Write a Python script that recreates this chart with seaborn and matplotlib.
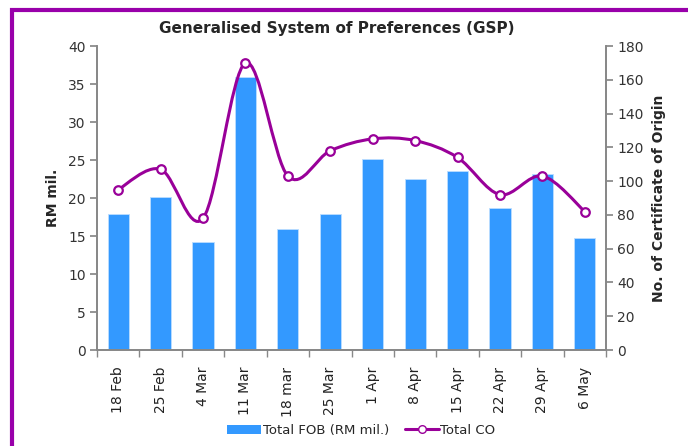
import numpy as np
import matplotlib
matplotlib.use("Agg")
import matplotlib.pyplot as plt
from matplotlib.path import Path
from matplotlib.patches import PathPatch, Rectangle
from matplotlib.lines import Line2D
import seaborn as sns
import pandas as pd

weeks = ["18 Feb", "25 Feb", "4 Mar", "11 Mar", "18 mar", "25 Mar",
         "1 Apr", "8 Apr", "15 Apr", "22 Apr", "29 Apr", "6 May"]
total_fob = [17.9, 20.1, 14.2, 35.9, 15.9, 17.9, 25.1, 22.5, 23.6, 18.7, 23.2, 14.7]
total_co = [95, 107, 78, 170, 103, 118, 125, 124, 114, 92, 103, 82]

bar_color = "#3399FF"
line_color = "#990099"
grey = "#888888"

sns.set_theme(style="white")
plt.rcParams["font.family"] = ["DejaVu Sans"]

df = pd.DataFrame({"week": weeks, "fob": total_fob, "co": total_co})

fig = plt.figure(figsize=[6.88, 4.46], dpi=100)
ax = fig.add_axes([97 / 688, 1 - 350 / 446, (606 - 97) / 688, (350 - 46) / 446])

sns.barplot(data=df, x="week", y="fob", color=bar_color, width=0.5,
            saturation=1, ax=ax, edgecolor="#BBDDFF", linewidth=0.6)
ax.set_ylim(0, 40)
ax.set_yticks(range(0, 41, 5))
ax.set_xlim(-0.5, len(weeks) - 0.5)

ax2 = ax.twinx()
ax2.set_ylim(0, 180)
ax2.set_yticks(range(0, 181, 20))

# smoothed line (Catmull-Rom style bezier, like Excel's smoothed line)
x = np.arange(len(weeks), dtype=float)
y = np.array(total_co, dtype=float)
verts = [(x[0], y[0])]
codes = [Path.MOVETO]
for i in range(len(x) - 1):
    p0 = (x[max(i - 1, 0)], y[max(i - 1, 0)])
    p1 = (x[i], y[i])
    p2 = (x[i + 1], y[i + 1])
    p3 = (x[min(i + 2, len(x) - 1)], y[min(i + 2, len(x) - 1)])
    c1 = (p1[0] + (p2[0] - p0[0]) / 6, p1[1] + (p2[1] - p0[1]) / 6)
    c2 = (p2[0] - (p3[0] - p1[0]) / 6, p2[1] - (p3[1] - p1[1]) / 6)
    verts += [c1, c2, p2]
    codes += [Path.CURVE4] * 3
ax2.add_patch(PathPatch(Path(verts, codes), facecolor="none",
                        edgecolor=line_color, linewidth=2.2, zorder=3))
sns.scatterplot(x=x, y=y, ax=ax2, s=38, color="white", edgecolor=line_color,
                linewidth=1.6, zorder=4, legend=False)

# axes styling
for a in (ax, ax2):
    a.spines["top"].set_visible(False)
    a.spines["left"].set_color(grey)
    a.spines["right"].set_color(grey)
    a.spines["bottom"].set_color(grey)
    a.set_xlabel("")

ax.tick_params(axis="y", left=True, length=5, color=grey, labelsize=10,
               labelcolor="#333333", pad=3)
ax2.tick_params(axis="y", right=True, length=5, color=grey, labelsize=10,
                labelcolor="#333333", pad=3)
ax.set_xticks(x)
ax.set_xticklabels(weeks, rotation=90, fontsize=10, color="#222222")
ax.set_xticks(np.arange(-0.5, len(weeks)), minor=True)
ax.tick_params(axis="x", which="major", bottom=False, pad=6)
ax.tick_params(axis="x", which="minor", bottom=True, length=5, color=grey)

ax.set_ylabel("RM mil.", fontsize=10, fontweight="bold", labelpad=6)
ax2.set_ylabel("No. of Certificate of Origin", fontsize=10,
               fontweight="bold", labelpad=6)

fig.text(0.49, 0.935, "Generalised System of Preferences (GSP)",
         ha="center", va="center", fontsize=11, fontweight="bold")

handles = [Rectangle((0, 0), 1, 1, facecolor=bar_color, edgecolor="none"),
           Line2D([], [], color=line_color, linewidth=2.2, marker="o",
                  markerfacecolor="white", markeredgecolor=line_color,
                  markersize=5.5)]
fig.legend(handles, ["Total FOB (RM mil.)", "Total CO"], loc="center",
           bbox_to_anchor=(0.525, 0.035), ncol=2, frameon=False,
           fontsize=9.5, handlelength=2.6, handletextpad=0.1,
           columnspacing=1.2)

# purple frame
fig.add_artist(Rectangle((12 / 688, -0.1), 1.2, 1 - 10 / 446 + 0.1,
                         transform=fig.transFigure, fill=False,
                         edgecolor="#9900AA", linewidth=3))

plt.savefig("out.png", dpi=100)
